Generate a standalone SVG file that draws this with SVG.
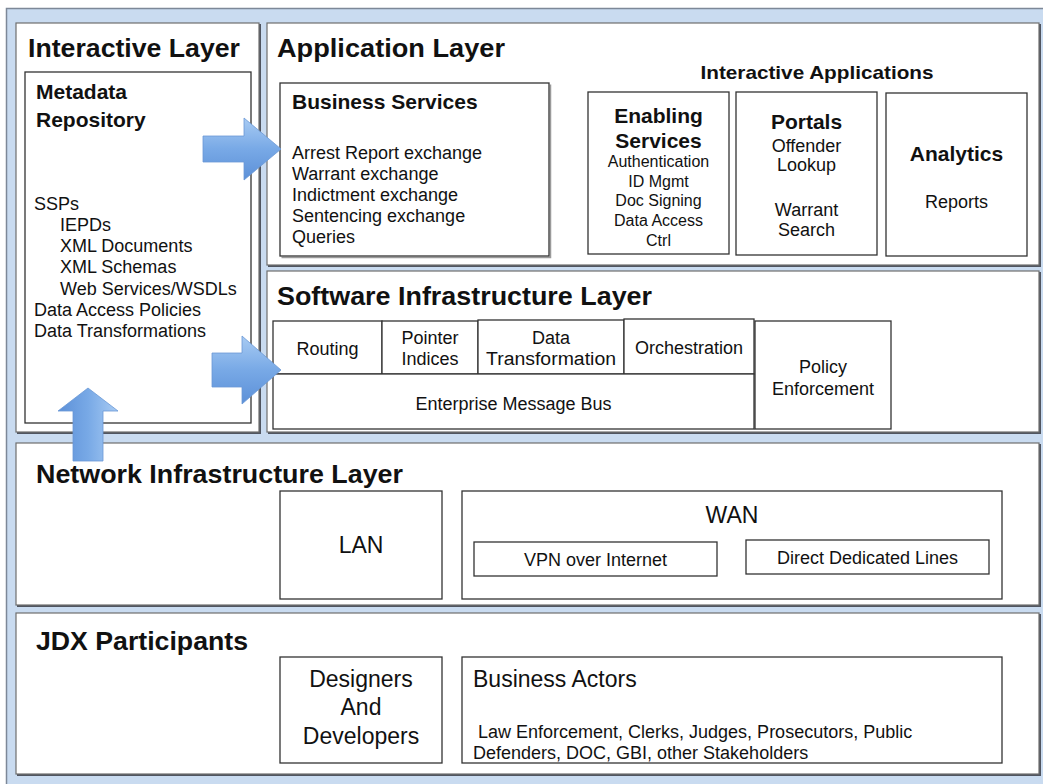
<svg xmlns="http://www.w3.org/2000/svg" width="1043" height="784" viewBox="0 0 1043 784">
  <defs>
    <style>
      text { font-family: "Liberation Sans", Arial, Helvetica, sans-serif; fill: #111; }
      .layer { fill: #ffffff; stroke: #6e6e6e; stroke-width: 1.2; }
      .layer-shadow { fill: none; stroke: #505560; stroke-width: 2; }
      .box { fill: #ffffff; stroke: #333333; stroke-width: 1.3; }
      .box-shadow { fill: none; stroke: #9a9a9a; stroke-width: 1.5; }
      .title { font-size: 26px; font-weight: bold; }
      .head { font-size: 21px; font-weight: bold; }
      .sub { font-size: 19px; font-weight: bold; }
      .item { font-size: 18px; }
      .small { font-size: 16px; }
      .big { font-size: 23px; }
      .mid { text-anchor: middle; }
      .arrow-h { fill: url(#gradH); stroke: #6a98d6; stroke-width: 0.8; }
      .arrow-v { fill: url(#gradV); stroke: #6a98d6; stroke-width: 0.8; }
    </style>
    <linearGradient id="gradH" x1="0" y1="0" x2="0" y2="1">
      <stop offset="0" stop-color="#a8cbf3"/>
      <stop offset="0.5" stop-color="#78a9e6"/>
      <stop offset="1" stop-color="#5c90d8"/>
    </linearGradient>
    <linearGradient id="gradV" x1="0" y1="0" x2="1" y2="0">
      <stop offset="0" stop-color="#5c90d8"/>
      <stop offset="0.5" stop-color="#78a9e6"/>
      <stop offset="1" stop-color="#a8cbf3"/>
    </linearGradient>
  </defs>

  <!-- outer frame -->
  <rect x="6.5" y="8.5" width="1045" height="790" fill="#c9dbf0" stroke="#7d8898" stroke-width="1.5"/>

  <!-- Interactive Layer -->
  <g id="interactive-layer">
    <path class="layer-shadow" d="M260 24 V433 H17"/>
    <rect class="layer" x="16" y="23" width="243" height="409"/>
    <text class="title" x="28" y="57" textLength="212" lengthAdjust="spacingAndGlyphs">Interactive Layer</text>
  </g>

  <g id="metadata-repository">
    <rect class="box" x="25" y="72" width="226" height="351"/>
    <text class="head" x="36" y="99">Metadata</text>
    <text class="head" x="36" y="127">Repository</text>
    <text class="item" x="34" y="209.5">SSPs</text>
    <text class="item" x="60" y="230.8">IEPDs</text>
    <text class="item" x="60" y="252.1">XML Documents</text>
    <text class="item" x="60" y="273.4">XML Schemas</text>
    <text class="item" x="60" y="294.7">Web Services/WSDLs</text>
    <text class="item" x="34" y="316">Data Access Policies</text>
    <text class="item" x="34" y="337.3">Data Transformations</text>
  </g>

  <!-- Application Layer -->
  <g id="application-layer">
    <path class="layer-shadow" d="M1040 24 V266 H268"/>
    <rect class="layer" x="267" y="23" width="772" height="242"/>
    <text class="title" x="277" y="57" textLength="228" lengthAdjust="spacingAndGlyphs">Application Layer</text>
    <text class="sub mid" x="817" y="79" textLength="233" lengthAdjust="spacingAndGlyphs">Interactive Applications</text>
  </g>

  <g id="business-services">
    <path class="box-shadow" d="M550.5 84.5 V257.5 H281.5"/>
    <rect class="box" x="280" y="83" width="269" height="173"/>
    <text class="head" x="292" y="109">Business Services</text>
    <text class="item" x="292" y="158.5">Arrest Report exchange</text>
    <text class="item" x="292" y="179.5">Warrant exchange</text>
    <text class="item" x="292" y="200.5">Indictment exchange</text>
    <text class="item" x="292" y="221.5">Sentencing exchange</text>
    <text class="item" x="292" y="242.5">Queries</text>
  </g>

  <g id="enabling-services">
    <rect class="box" x="588" y="92" width="141" height="162"/>
    <text class="head mid" x="658.5" y="122.5">Enabling</text>
    <text class="head mid" x="658.5" y="147.5">Services</text>
    <text class="small mid" x="658.5" y="167">Authentication</text>
    <text class="small mid" x="658.5" y="187">ID Mgmt</text>
    <text class="small mid" x="658.5" y="206">Doc Signing</text>
    <text class="small mid" x="658.5" y="226">Data Access</text>
    <text class="small mid" x="658.5" y="246">Ctrl</text>
  </g>

  <g id="portals">
    <rect class="box" x="736" y="92" width="141" height="163"/>
    <text class="head mid" x="806.5" y="129">Portals</text>
    <text class="item mid" x="806.5" y="152">Offender</text>
    <text class="item mid" x="806.5" y="171">Lookup</text>
    <text class="item mid" x="806.5" y="216">Warrant</text>
    <text class="item mid" x="806.5" y="236">Search</text>
  </g>

  <g id="analytics">
    <rect class="box" x="886" y="93" width="141" height="163"/>
    <text class="head mid" x="956.5" y="161">Analytics</text>
    <text class="item mid" x="956.5" y="208">Reports</text>
  </g>

  <!-- Software Infrastructure Layer -->
  <g id="software-infrastructure-layer">
    <path class="layer-shadow" d="M1040 272 V433 H268"/>
    <rect class="layer" x="267" y="271" width="772" height="161"/>
    <text class="title" x="277" y="305" textLength="375" lengthAdjust="spacingAndGlyphs">Software Infrastructure Layer</text>
  </g>

  <g id="routing">
    <rect class="box" x="273" y="321" width="109" height="53"/>
    <text class="item mid" x="327.5" y="355">Routing</text>
  </g>
  <g id="pointer-indices">
    <rect class="box" x="382" y="321" width="96" height="53"/>
    <text class="item mid" x="430" y="344">Pointer</text>
    <text class="item mid" x="430" y="365">Indices</text>
  </g>
  <g id="data-transformation">
    <rect class="box" x="478" y="320" width="146" height="54"/>
    <text class="item mid" x="551" y="344">Data</text>
    <text class="item mid" x="551" y="365" textLength="130" lengthAdjust="spacingAndGlyphs">Transformation</text>
  </g>
  <g id="orchestration">
    <rect class="box" x="624" y="319" width="130" height="55"/>
    <text class="item mid" x="689" y="354">Orchestration</text>
  </g>
  <g id="enterprise-message-bus">
    <rect class="box" x="273" y="374" width="481" height="55"/>
    <text class="item mid" x="513.5" y="410">Enterprise Message Bus</text>
  </g>
  <g id="policy-enforcement">
    <rect class="box" x="755" y="321" width="136" height="108"/>
    <text class="item mid" x="823" y="373">Policy</text>
    <text class="item mid" x="823" y="395">Enforcement</text>
  </g>

  <!-- Network Infrastructure Layer -->
  <g id="network-infrastructure-layer">
    <path class="layer-shadow" d="M1040 444 V606 H17"/>
    <rect class="layer" x="16" y="443" width="1023" height="162"/>
    <text class="title" x="36" y="483" textLength="367" lengthAdjust="spacingAndGlyphs">Network Infrastructure Layer</text>
  </g>

  <g id="lan">
    <rect class="box" x="280" y="491" width="162" height="108"/>
    <text class="big mid" x="361" y="553">LAN</text>
  </g>
  <g id="wan">
    <rect class="box" x="462" y="491" width="540" height="108"/>
    <text class="big mid" x="732" y="523">WAN</text>
  </g>
  <g id="vpn-over-internet">
    <rect class="box" x="474" y="542" width="243" height="34"/>
    <text class="item mid" x="595.5" y="566">VPN over Internet</text>
  </g>
  <g id="direct-dedicated-lines">
    <rect class="box" x="746" y="540" width="243" height="34"/>
    <text class="item mid" x="867.5" y="564">Direct Dedicated Lines</text>
  </g>

  <!-- JDX Participants -->
  <g id="jdx-participants">
    <path class="layer-shadow" d="M1040 614 V775 H17"/>
    <rect class="layer" x="16" y="613" width="1023" height="161"/>
    <text class="title" x="36" y="650" textLength="212" lengthAdjust="spacingAndGlyphs">JDX Participants</text>
  </g>

  <g id="designers-and-developers">
    <rect class="box" x="280" y="657" width="162" height="106"/>
    <text class="big mid" x="361" y="687">Designers</text>
    <text class="big mid" x="361" y="715">And</text>
    <text class="big mid" x="361" y="744">Developers</text>
  </g>
  <g id="business-actors">
    <rect class="box" x="462" y="657" width="540" height="106"/>
    <text class="big" x="473" y="687">Business Actors</text>
    <text class="item" x="478" y="738">Law Enforcement, Clerks, Judges, Prosecutors, Public</text>
    <text class="item" x="473" y="759">Defenders, DOC, GBI, other Stakeholders</text>
  </g>

  <!-- block arrows -->
  <g id="connectors">
    <path class="arrow-h" d="M203 136 H244 V118 L281 149 L244 180 V162 H203 Z"/>
    <path class="arrow-h" d="M212 353 H242 V336 L281 370 L242 404 V387 H212 Z"/>
    <path class="arrow-v" d="M73 461 V411 H58 L88 388 L118 411 H103 V461 Z"/>
  </g>
</svg>
